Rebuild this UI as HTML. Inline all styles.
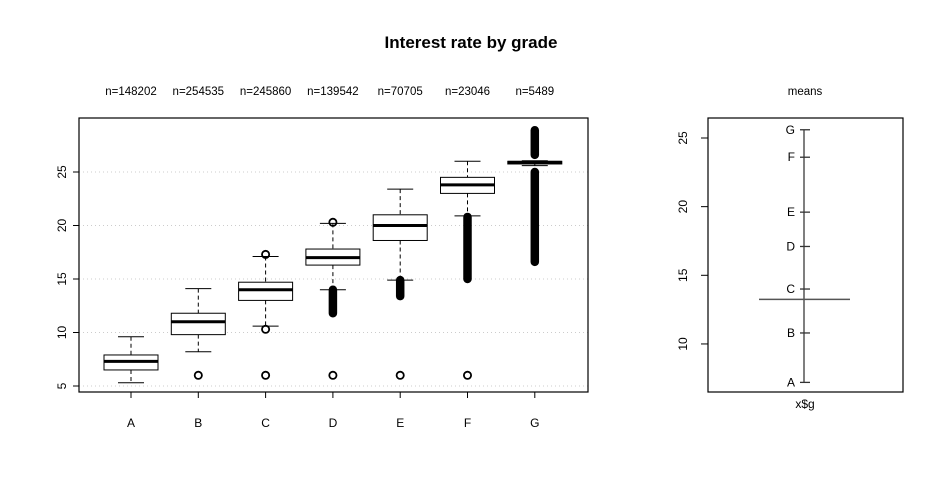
<!DOCTYPE html>
<html><head><meta charset="utf-8"><style>
body{margin:0;background:#fff}
svg{display:block;font-family:"Liberation Sans",Arial,sans-serif}
</style></head><body>
<svg id="c" width="943" height="491" viewBox="0 0 943 491">
<text x="471" y="48" text-anchor="middle" font-size="17" font-weight="bold">Interest rate by grade</text>
<g id="left"></g>
<g id="right"></g>
</svg>
<script>
const grades=["A","B","C","D","E","F","G"];
const counts=["n=148202","n=254535","n=245860","n=139542","n=70705","n=23046","n=5489"];
const whiskLo=[5.3,8.2,10.6,14.0,14.9,20.9,25.6];
const q1=[6.5,9.8,13.0,16.3,18.6,23.0,25.75];
const med=[7.3,11.0,14.0,17.0,20.0,23.8,25.9];
const q3=[7.9,11.8,14.7,17.8,21.0,24.5,26.0];
const whiskHi=[9.6,14.1,17.1,20.2,23.4,26.0,26.05];
const outliers=[[],[6.0],[6.0,10.3,17.3],[6.0,20.3],[6.0],[6.0],[]];
const outlierRanges=[[],[],[],[[11.8,14.0]],[[13.4,14.9]],[[15.0,20.8]],[[16.6,25.0],[26.6,28.9]]];
const yTicks=[5,10,15,20,25];
const means=[7.2,10.8,14.0,17.1,19.6,23.6,25.6];
const overallMean=13.25;
const meanTicks=[10,15,20,25];

const NS="http://www.w3.org/2000/svg";
function mk(p,t,a){const e=document.createElementNS(NS,t);for(const k in a)e.setAttribute(k,a[k]);p.appendChild(e);return e;}
const L=document.getElementById('left'),R=document.getElementById('right');
const x0=79,x1=588,plotTop=118,plotBot=392;
const yL=v=>386-(v-5)*10.7;
const xL=i=>131+i*67.3;
const hw=27;
yTicks.forEach(t=>{
 let g=mk(L,'line',{x1:x0,x2:x1,y1:yL(t),y2:yL(t),stroke:'#ccc','stroke-dasharray':'1,3'});
 
 let k=mk(L,'line',{x1:x0-6,x2:x0,y1:yL(t),y2:yL(t),stroke:'#000'});
 
 let tx=mk(L,'text',{x:0,y:0,'font-size':12,'text-anchor':'middle',transform:`translate(${x0-13},${yL(t)}) rotate(-90)`});
 tx.textContent=t;
});
let bx=mk(L,'rect',{x:x0,y:plotTop,width:x1-x0,height:plotBot-plotTop,fill:'none',stroke:'#000','stroke-width':1.2});

grades.forEach((g,i)=>{
 const cx=xL(i);
 let grp=mk(L,'g',{});
 mk(grp,'line',{x1:cx,x2:cx,y1:yL(whiskHi[i]),y2:yL(q3[i]),stroke:'#000','stroke-dasharray':'4,3'});
 mk(grp,'line',{x1:cx,x2:cx,y1:yL(q1[i]),y2:yL(whiskLo[i]),stroke:'#000','stroke-dasharray':'4,3'});
 mk(grp,'line',{x1:cx-13,x2:cx+13,y1:yL(whiskHi[i]),y2:yL(whiskHi[i]),stroke:'#000'});
 mk(grp,'line',{x1:cx-13,x2:cx+13,y1:yL(whiskLo[i]),y2:yL(whiskLo[i]),stroke:'#000'});
 mk(grp,'rect',{x:cx-hw,y:yL(q3[i]),width:2*hw,height:Math.max(1,yL(q1[i])-yL(q3[i])),fill:'#fff',stroke:'#000'});
 mk(grp,'line',{x1:cx-hw,x2:cx+hw,y1:yL(med[i]),y2:yL(med[i]),stroke:'#000','stroke-width':3});
 outliers[i].forEach(v=>{let c=mk(grp,'circle',{cx:cx,cy:yL(v),r:3.6,fill:'none',stroke:'#000','stroke-width':1.8});
  });
 outlierRanges[i].forEach(r=>{let c=mk(grp,'line',{x1:cx,x2:cx,y1:yL(r[0]),y2:yL(r[1]),stroke:'#000','stroke-width':8.5,'stroke-linecap':'round'});
  });
 let tk=mk(L,'line',{x1:cx,x2:cx,y1:plotBot,y2:plotBot+6,stroke:'#000'});
 
 let xl=mk(L,'text',{x:cx,y:427,'font-size':12,'text-anchor':'middle'});xl.textContent=g;
 
 let nl=mk(L,'text',{x:cx,y:95,'font-size':11.5,'text-anchor':'middle'});nl.textContent=counts[i];
 
});
const rx0=708,rx1=903,rcx=804;
const yR=v=>138+(25-v)*13.73;
let rf=mk(R,'rect',{x:rx0,y:plotTop,width:rx1-rx0,height:plotBot-plotTop,fill:'none',stroke:'#000','stroke-width':1.2});

meanTicks.forEach(t=>{
 let k=mk(R,'line',{x1:rx0-7,x2:rx0,y1:yR(t),y2:yR(t),stroke:'#000'});
 
 let tx=mk(R,'text',{x:0,y:0,'font-size':12,'text-anchor':'middle',transform:`translate(${rx0-21},${yR(t)}) rotate(-90)`});
 tx.textContent=t;
});
let vl=mk(R,'line',{x1:rcx,x2:rcx,y1:yR(Math.max(...means)),y2:yR(Math.min(...means)),stroke:'#555','stroke-width':1.5});

let ml=mk(R,'line',{x1:759,x2:850,y1:yR(overallMean),y2:yR(overallMean),stroke:'#555','stroke-width':1.5});

grades.forEach((g,i)=>{
 let k=mk(R,'line',{x1:rcx-4,x2:rcx+6,y1:yR(means[i]),y2:yR(means[i]),stroke:'#333','stroke-width':1.3});
 
 let t=mk(R,'text',{x:rcx-9,y:yR(means[i])+4,'font-size':12,'text-anchor':'end'});t.textContent=g;
 
});
let mt=mk(R,'text',{x:805,y:95,'font-size':11.5,'text-anchor':'middle'});mt.textContent='means';

let xt=mk(R,'text',{x:805,y:408,'font-size':12,'text-anchor':'middle'});xt.textContent='x$g';

</script>
</body></html>
